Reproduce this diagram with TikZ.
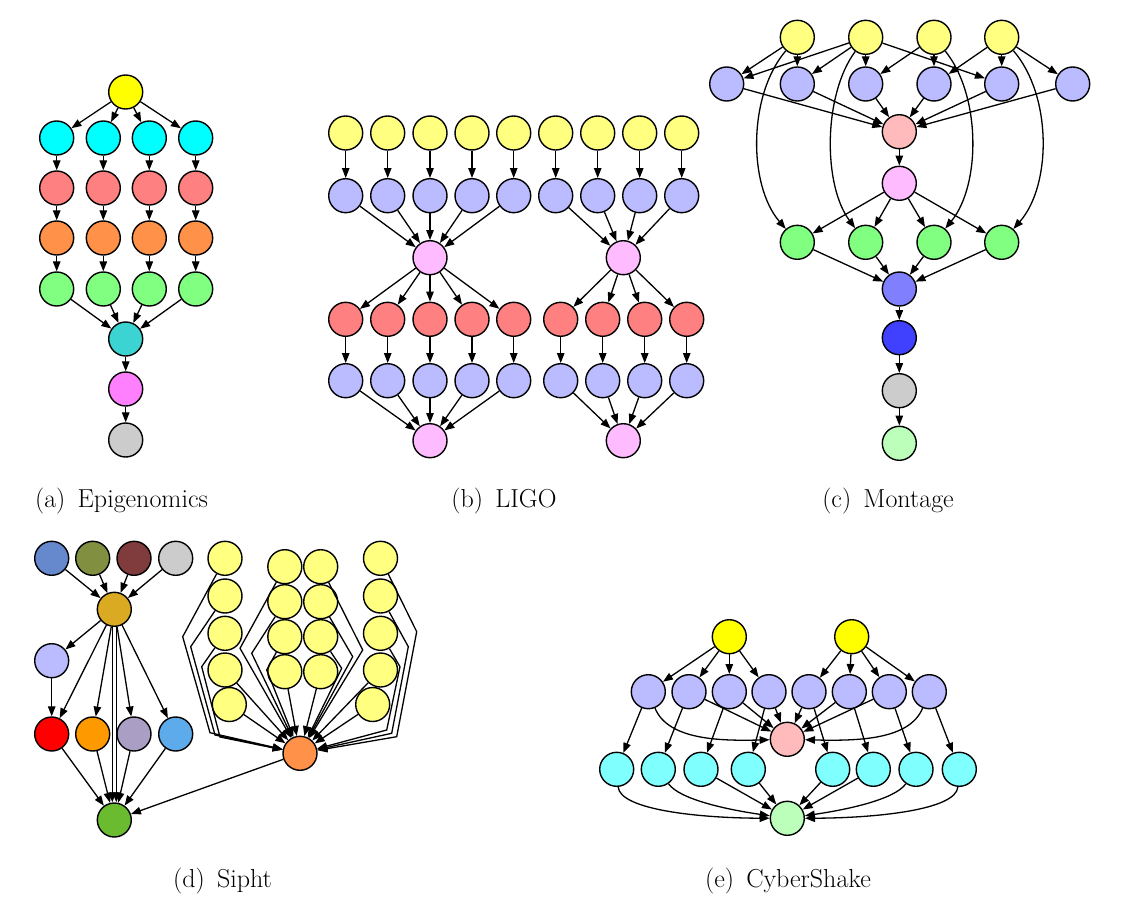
\documentclass[tikz,border=0pt]{standalone}
\usetikzlibrary{arrows.meta}
\definecolor{cYel}{HTML}{FFFF00}
\definecolor{cLYel}{HTML}{FFFF80}
\definecolor{cCyan}{HTML}{00FFFF}
\definecolor{cLCyan}{HTML}{80FFFF}
\definecolor{cSalmon}{HTML}{FF8080}
\definecolor{cOrng}{HTML}{FF9248}
\definecolor{cGrn}{HTML}{80FF80}
\definecolor{cTeal}{HTML}{3CD3D3}
\definecolor{cMag}{HTML}{FF80FF}
\definecolor{cGrey}{HTML}{CCCCCC}
\definecolor{cLav}{HTML}{BBBBFF}
\definecolor{cLPink}{HTML}{FFBBFF}
\definecolor{cPPink}{HTML}{FFBBBB}
\definecolor{cPBlue}{HTML}{8080FF}
\definecolor{cDBlue}{HTML}{4040FF}
\definecolor{cLGrn}{HTML}{BBFFBB}
\definecolor{sBlue}{HTML}{6688CC}
\definecolor{sOlive}{HTML}{809040}
\definecolor{sDRed}{HTML}{803C3C}
\definecolor{sGold}{HTML}{DAAA22}
\definecolor{sRed}{HTML}{FF0000}
\definecolor{sOrng}{HTML}{FF9900}
\definecolor{sLav}{HTML}{AA9EC4}
\definecolor{sSky}{HTML}{5DABEA}
\definecolor{sGrn}{HTML}{6ABB30}
\begin{document}
\begin{tikzpicture}[x=1pt,y=-1pt,
  nd/.style={circle,draw,line width=1.4pt,minimum size=34pt,inner sep=0pt},
  e/.style={-{Triangle[length=10pt,width=7.5pt]},line width=1.3pt},
  captxt/.style={font=\fontsize{26}{31}\selectfont,anchor=base,inner sep=0pt}]
\useasboundingbox (0,0) rectangle (1122,907);

% ---------------- (a) Epigenomics
\node[nd,fill=cYel] (a0) at (125.7,92) {};
\node[nd,fill=cTeal] (at) at (125.7,339) {};
\node[nd,fill=cMag] (am) at (125.7,389) {};
\node[nd,fill=cGrey] (agr) at (125.7,440) {};
\foreach \i/\x in {1/56.7,2/103.3,3/149.3,4/195.7}{
  \node[nd,fill=cCyan] (ac\i) at (\x,138) {};
  \node[nd,fill=cSalmon] (ar\i) at (\x,188) {};
  \node[nd,fill=cOrng] (ao\i) at (\x,238) {};
  \node[nd,fill=cGrn] (ag\i) at (\x,289) {};
  \draw[e] (a0) -- (ac\i);
  \draw[e] (ac\i) -- (ar\i);
  \draw[e] (ar\i) -- (ao\i);
  \draw[e] (ao\i) -- (ag\i);
  \draw[e] (ag\i) -- (at);
}
\draw[e] (at) -- (am);
\draw[e] (am) -- (agr);
\node[captxt] (capa) at (121.5,507) {(a)\hspace{0.47em}Epigenomics};

% ---------------- (b) LIGO
\node[nd,fill=cLPink] (lp1) at (430,257.7) {};
\node[nd,fill=cLPink] (lp2) at (623.3,257.7) {};
\node[nd,fill=cLPink] (lq1) at (430,440.7) {};
\node[nd,fill=cLPink] (lq2) at (623.3,440.7) {};
\foreach \i/\x in {1/345.7,2/387.7,3/430,4/472,5/513.7}{
  \node[nd,fill=cLYel] (ly\i) at (\x,133) {};
  \node[nd,fill=cLav] (lb\i) at (\x,195.7) {};
  \node[nd,fill=cSalmon] (lr\i) at (\x,319.3) {};
  \node[nd,fill=cLav] (lc\i) at (\x,380.7) {};
  \draw[e] (ly\i) -- (lb\i);
  \draw[e] (lb\i) -- (lp1);
  \draw[e] (lp1) -- (lr\i);
  \draw[e] (lr\i) -- (lc\i);
  \draw[e] (lc\i) -- (lq1);
}
\foreach \i/\x in {6/555.7,7/597.7,8/639.7,9/681.7}{
  \node[nd,fill=cLYel] (ly\i) at (\x,133) {};
  \node[nd,fill=cLav] (lb\i) at (\x,195.7) {};
  \draw[e] (ly\i) -- (lb\i);
  \draw[e] (lb\i) -- (lp2);
}
\foreach \i/\x in {6/560.7,7/602.7,8/644.7,9/686.7}{
  \node[nd,fill=cSalmon] (lr\i) at (\x,319.3) {};
  \node[nd,fill=cLav] (lc\i) at (\x,380.7) {};
  \draw[e] (lp2) -- (lr\i);
  \draw[e] (lr\i) -- (lc\i);
  \draw[e] (lc\i) -- (lq2);
}
\node[captxt] (capb) at (504,507) {(b)\hspace{0.47em}LIGO};

% ---------------- (c) Montage
\foreach \i/\x in {1/797.3,2/865.7,3/934,4/1001.7}{
  \node[nd,fill=cLYel] (my\i) at (\x,37.3) {};
  \node[nd,fill=cGrn] (mg\i) at (\x,242.3) {};
}
\foreach \i/\x in {1/726.7,2/797.3,3/865.7,4/934,5/1001.7,6/1072.7}{
  \node[nd,fill=cLav] (mb\i) at (\x,84) {};
}
\node[nd,fill=cPPink] (mpk) at (899.3,131.7) {};
\node[nd,fill=cLPink] (mmg) at (899.3,183.3) {};
\node[nd,fill=cPBlue] (mpb) at (899.3,289) {};
\node[nd,fill=cDBlue] (mdb) at (899.3,337.7) {};
\node[nd,fill=cGrey] (mgr) at (899.3,390.7) {};
\node[nd,fill=cLGrn] (mlg) at (899.3,443.3) {};
\foreach \a/\b in {1/1,1/2,2/1,2/2,2/3,2/5,3/3,3/4,4/4,4/5,4/6}{
  \draw[e] (my\a) -- (mb\b);
}
\foreach \i in {1,...,6}{ \draw[e] (mb\i) -- (mpk); }
\draw[e] (mpk) -- (mmg);
\foreach \i in {1,...,4}{
  \draw[e] (mmg) -- (mg\i);
  \draw[e] (mg\i) -- (mpb);
}
\draw[e] (my1) .. controls (748,95) and (748,185) .. (mg1);
\draw[e] (my2) .. controls (823,95) and (823,185) .. (mg2);
\draw[e] (my3) .. controls (981,95) and (981,185) .. (mg3);
\draw[e] (my4) .. controls (1052,95) and (1052,185) .. (mg4);
\draw[e] (mpb) -- (mdb);
\draw[e] (mdb) -- (mgr);
\draw[e] (mgr) -- (mlg);
\node[captxt] (capc) at (888,507) {(c)\hspace{0.47em}Montage};

% ---------------- (d) Sipht
\node[nd,fill=sBlue] (st1) at (51.7,558.3) {};
\node[nd,fill=sOlive] (st2) at (92.7,558.3) {};
\node[nd,fill=sDRed] (st3) at (134,558.3) {};
\node[nd,fill=cGrey] (st4) at (175.7,558.3) {};
\node[nd,fill=sGold] (sg) at (114.3,609.3) {};
\node[nd,fill=cLav] (slb) at (51.7,660.7) {};
\node[nd,fill=sRed] (sr) at (51.7,734) {};
\node[nd,fill=sOrng] (so) at (92.7,734) {};
\node[nd,fill=sLav] (sl) at (134,734) {};
\node[nd,fill=sSky] (ss) at (175.7,734) {};
\node[nd,fill=sGrn] (sgn) at (114.3,820) {};
\node[nd,fill=cOrng] (sor) at (300,753.3) {};
\foreach \i in {1,...,4}{ \draw[e] (st\i) -- (sg); }
\draw[e] (sg) -- (slb);
\draw[e] (slb) -- (sr);
\foreach \n in {sr,so,sl,ss}{
  \draw[e] (sg) -- (\n);
  \draw[e] (\n) -- (sgn);
}
\draw[e] ([xshift=-2pt]sg.south) -- ([xshift=-2pt]sgn.north);
\draw[e] ([xshift=2pt]sg.south) -- ([xshift=2pt]sgn.north);
\draw[e] (sor) -- (sgn);
% yellow nodes
\foreach \i/\y in {1/558.3,2/596,3/633.3,4/670}{
  \node[nd,fill=cLYel] (sa\i) at (225,\y) {};
  \node[nd,fill=cLYel] (sd\i) at (380.5,\y) {};
}
\node[nd,fill=cLYel] (sa5) at (229.3,704.5) {};
\node[nd,fill=cLYel] (sd5) at (372.7,704.5) {};
\foreach \i/\y in {1/566.7,2/601.7,3/636.7,4/671.7}{
  \node[nd,fill=cLYel] (sb\i) at (284.8,\y) {};
  \node[nd,fill=cLYel] (sc\i) at (320.7,\y) {};
}
\draw[e] (sa1) -- (182.7,636.7) -- (210,732.7) -- (sor);
\draw[e] (sa2) -- (190.7,646.7) -- (215,735) -- (sor);
\draw[e] (sa3) -- (201.7,666.7) -- (220,737) -- (sor);
\draw[e] (sa4) -- (sor);
\draw[e] (sa5) -- (sor);
\draw[e] (sb1) -- (240,648.3) -- (sor);
\draw[e] (sb2) -- (251.7,653.3) -- (sor);
\draw[e] (sb3) -- (266.7,670) -- (sor);
\draw[e] (sb4) -- (sor);
\draw[e] (sc1) -- (362.7,650) -- (sor);
\draw[e] (sc2) -- (352.7,656.7) -- (sor);
\draw[e] (sc3) -- (341.7,668.3) -- (sor);
\draw[e] (sc4) -- (sor);
\draw[e] (sd1) -- (416.7,631.7) -- (396.7,736.7) -- (sor);
\draw[e] (sd2) -- (408.3,646.7) -- (391.7,733.3) -- (sor);
\draw[e] (sd3) -- (400,666.7) -- (386.7,730) -- (sor);
\draw[e] (sd4) -- (sor);
\draw[e] (sd5) -- (sor);
\node[captxt] (capd) at (222.5,887) {(d)\hspace{0.47em}Sipht};

% ---------------- (e) CyberShake
\node[nd,fill=cYel] (cy1) at (729.3,636.7) {};
\node[nd,fill=cYel] (cy2) at (851.7,636.7) {};
\node[nd,fill=cPPink] (cpk) at (787.3,739.3) {};
\node[nd,fill=cLGrn] (cgn) at (787.3,818.3) {};
\foreach \i/\x in {1/648.3,2/689,3/729.3,4/769,5/809,6/849.3,7/889.3,8/929.3}{
  \node[nd,fill=cLav] (cb\i) at (\x,691.7) {};
}
\foreach \i/\x in {1/616.7,2/658.3,3/701,4/748.3,5/832.7,6/873.3,7/916,8/959.3}{
  \node[nd,fill=cLCyan] (cc\i) at (\x,769.3) {};
  \draw[e] (cb\i) -- (cc\i);
}
\foreach \i in {1,...,4}{ \draw[e] (cy1) -- (cb\i); }
\foreach \i in {5,...,8}{ \draw[e] (cy2) -- (cb\i); }
\foreach \i in {2,...,7}{ \draw[e] (cb\i) -- (cpk); }
\draw[e] (cb1) .. controls (668,740) and (720,741) .. (cpk);
\draw[e] (cb8) .. controls (909.6,740) and (857.6,741) .. (cpk);
\foreach \i in {3,...,6}{ \draw[e] (cc\i) -- (cgn); }
\draw[e] (cc1) .. controls (620,810) and (700,818) .. (cgn);
\draw[e] (cc2) .. controls (680,800) and (730,810) .. (cgn);
\draw[e] (cc7) .. controls (894.4,800) and (844.4,810) .. (cgn);
\draw[e] (cc8) .. controls (956,810) and (876,818) .. (cgn);
\node[captxt] (cape) at (788,887) {(e)\hspace{0.47em}CyberShake};
\end{tikzpicture}
\end{document}
